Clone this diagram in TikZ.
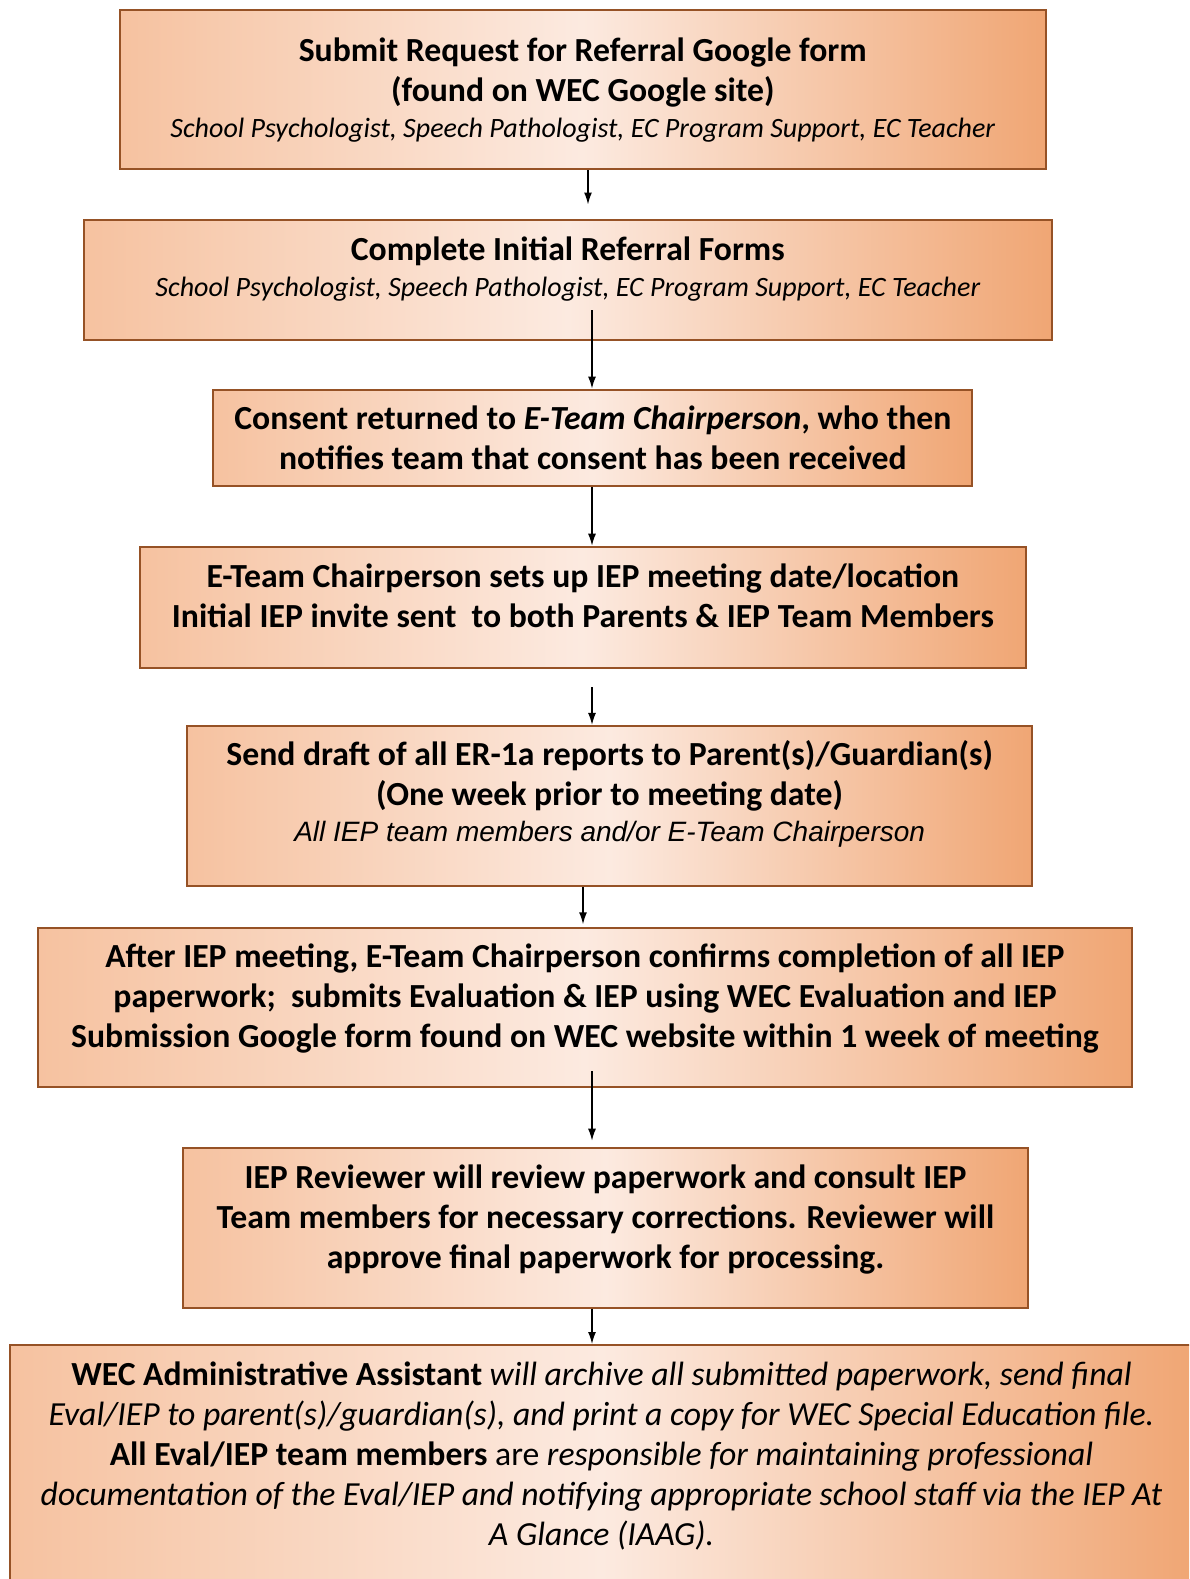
\documentclass[tikz,border=0pt]{standalone}
\usepackage{fontspec}
\setmainfont{Carlito}
\newfontfamily\arialfont{Liberation Sans}
\usetikzlibrary{arrows.meta, positioning}

\definecolor{boxline}{RGB}{150,82,38}
\definecolor{boxleft}{RGB}{246,194,160}
\definecolor{boxmid}{RGB}{252,234,224}
\definecolor{boxright}{RGB}{240,166,116}

\newcommand{\bigbold}{\fontsize{33.7}{40}\selectfont\bfseries}
\newcommand{\smallit}{\fontsize{28}{36}\selectfont\mdseries\itshape}
\newcommand{\bigit}{\fontsize{33.7}{40}\selectfont\mdseries\itshape}
% box body: width, height, first baseline, text
\newcommand{\steptext}[4]{\parbox[t][#2pt][t]{#1pt}{\centering\bigbold\rule{0pt}{#3pt}#4\par}}

\tikzset{
  stepbox/.style={draw=boxline, line width=2pt, inner sep=0pt,
    anchor=north west, left color=boxleft, right color=boxright,
    middle color=boxmid},
  flow/.style={-{Latex[length=12pt,width=8pt]}, line width=1.4pt, black}
}

\begin{document}
\begin{tikzpicture}[x=1pt, y=-1pt]
  \clip (0,0) rectangle (1189,1579);

  \node[stepbox] (b1) at (118.8,9.1) {\steptext{926}{159}{51}{%
      Submit Request for Referral Google form\\
      (found on WEC Google site)\par
      {\smallit School Psychologist, Speech Pathologist, EC Program Support, EC Teacher\par}}};

  \node[stepbox] (b2) at (82.6,218.5) {\steptext{968.5}{120.8}{41}{%
      Complete Initial Referral Forms\par
      {\smallit School Psychologist, Speech Pathologist, EC Program Support, EC Teacher\par}}};

  \node[stepbox] (b3) at (212.4,388.6) {\steptext{759}{96.7}{40}{%
      Consent returned to \textit{E-Team Chairperson}, who then\\
      notifies team that consent has been received}};

  \node[stepbox] (b4) at (138.9,545.7) {\steptext{886}{120.8}{41}{%
      E-Team Chairperson sets up IEP meeting date/location\\
      Initial IEP invite sent \ to both Parents \& IEP Team Members}};

  \node[stepbox] (b5) at (186.3,724.9) {\steptext{844.7}{160}{40}{%
      Send draft of all ER-1a reports to Parent(s)/Guardian(s)\\
      (One week prior to meeting date)\par
      {\fontsize{28}{36}\selectfont\arialfont\mdseries\itshape
        All IEP team members and/or E-Team Chairperson\par}}};

  \node[stepbox] (b6) at (37.3,927.3) {\steptext{1093.3}{159}{39}{%
      After IEP meeting, E-Team Chairperson confirms completion of all IEP\\
      paperwork; \ submits Evaluation \& IEP using WEC Evaluation and IEP\\
      Submission Google form found on WEC website within 1 week of meeting}};

  \node[stepbox] (b7) at (182.2,1146.7) {\steptext{844.7}{160}{41}{%
      IEP Reviewer will review paperwork and consult IEP\\
      Team members for necessary corrections. Reviewer will\\
      approve final paperwork for processing.}};

  \node[stepbox] (b8) at (9,1344) {\steptext{1183}{280}{40}{%
      WEC Administrative Assistant {\bigit will archive all submitted paperwork, send final}\\
      {\bigit Eval/IEP to parent(s)/guardian(s), and print a copy for WEC Special Education file.}\\
      All Eval/IEP team members {\fontsize{33.7}{40}\selectfont\mdseries are \itshape responsible for maintaining professional}\\
      {\bigit documentation of the Eval/IEP and notifying appropriate school staff via the IEP At}\\
      {\bigit A Glance (IAAG).}}};

  % arrows along the spine
  \coordinate (spine) at (592,0);
  \draw[flow] ([xshift=-4pt]b1.south -| spine) -- ([xshift=-4pt,yshift=14pt]b2.north -| spine);
  \draw[flow] ([yshift=31pt]b2.south -| spine) -- (b3.north -| spine);
  \draw[flow] (b3.south -| spine) -- (b4.north -| spine);
  \draw[flow] ([yshift=-18.5pt]b4.south -| spine) -- (b5.north -| spine);
  \draw[flow] ([xshift=-9pt]b5.south -| spine) -- ([xshift=-9pt,yshift=3pt]b6.north -| spine);
  \draw[flow] ([yshift=17pt]b6.south -| spine) -- ([yshift=6pt]b7.north -| spine);
  \draw[flow] (b7.south -| spine) -- (b8.north -| spine);
\end{tikzpicture}
\end{document}
